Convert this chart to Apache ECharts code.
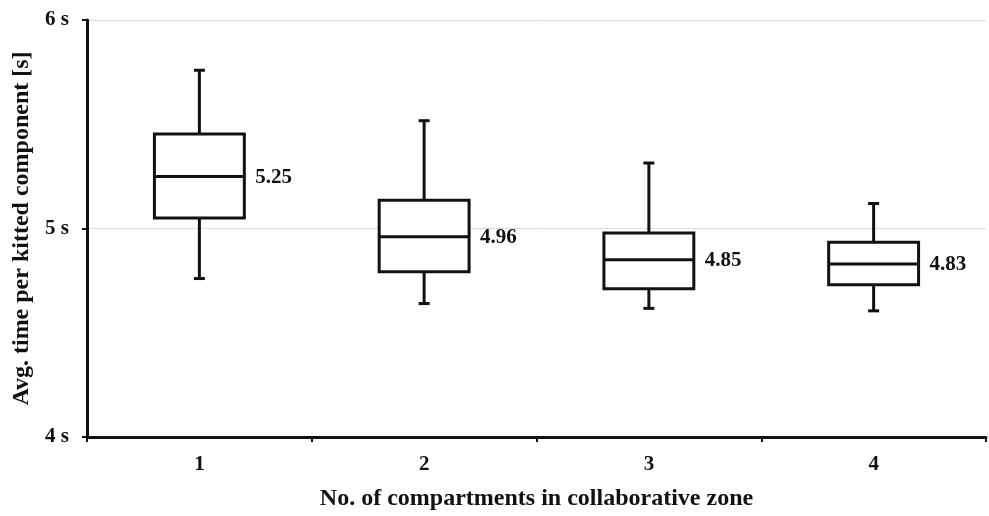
<!DOCTYPE html>
<html>
<head>
<meta charset="utf-8">
<script src="https://cdn.jsdelivr.net/npm/echarts@6/dist/echarts.min.js"></script>
<style>html,body{margin:0;padding:0;background:#fff}#c{width:989px;height:516px}</style>
</head>
<body>
<div id="c"></div>
<script>
const categories = ['1', '2', '3', '4'];
const whiskerLow = [4.76, 4.64, 4.617, 4.605];
const q1 = [5.05, 4.792, 4.711, 4.73];
const median = [5.25, 4.96, 4.85, 4.83];
const q3 = [5.453, 5.135, 4.978, 4.934];
const whiskerHigh = [5.759, 5.517, 5.314, 5.12];
const yTicks = [4, 5, 6];

const FONT = '"Liberation Serif", "Times New Roman", serif';
const INK = '#111';

const data = categories.map((c, i) => [i, whiskerLow[i], q1[i], median[i], q3[i], whiskerHigh[i]]);

const chart = echarts.init(document.getElementById('c'), null, {renderer: 'canvas'});
chart.setOption({
  backgroundColor: '#fff',
  animation: false,
  grid: {left: 87, right: 3, top: 20, bottom: 72},
  xAxis: {
    type: 'category',
    data: categories,
    boundaryGap: true,
    name: 'No. of compartments in collaborative zone',
    nameLocation: 'middle',
    nameGap: 50,
    nameTextStyle: {fontFamily: FONT, fontWeight: 'bold', fontSize: 24, color: INK},
    axisLine: {lineStyle: {color: INK, width: 3}},
    axisTick: {show: true, length: 5, lineStyle: {color: INK, width: 2}},
    axisLabel: {fontFamily: FONT, fontWeight: 'bold', fontSize: 21, color: INK, margin: 17},
    splitLine: {show: false}
  },
  yAxis: {
    type: 'value',
    min: yTicks[0],
    max: yTicks[yTicks.length - 1],
    interval: 1,
    name: 'Avg. time per kitted component [s]',
    nameLocation: 'middle',
    nameGap: 52,
    nameTextStyle: {fontFamily: FONT, fontWeight: 'bold', fontSize: 24, color: INK},
    axisLine: {show: true, lineStyle: {color: INK, width: 3}},
    axisTick: {show: true, length: 5, lineStyle: {color: INK, width: 2}},
    axisLabel: {formatter: '{value} s', fontFamily: FONT, fontWeight: 'bold', fontSize: 21, color: INK, margin: 18},
    splitLine: {show: true, lineStyle: {color: '#dcdcdc', width: 1}}
  },
  series: [{
    type: 'custom',
    data: data,
    encode: {x: 0, y: [1, 2, 3, 4, 5]},
    renderItem: function (params, api) {
      const idx = api.value(0);
      const lo = api.coord([idx, api.value(1)]);
      const b1 = api.coord([idx, api.value(2)]);
      const md = api.coord([idx, api.value(3)]);
      const b3 = api.coord([idx, api.value(4)]);
      const hi = api.coord([idx, api.value(5)]);
      const bw = api.size([1, 0])[0] * 0.40;
      const cw = 11;
      const x = lo[0];
      const ls = {stroke: INK, lineWidth: 3, fill: null};
      return {
        type: 'group',
        children: [
          {type: 'line', shape: {x1: x, y1: hi[1], x2: x, y2: b3[1]}, style: ls},
          {type: 'line', shape: {x1: x, y1: b1[1], x2: x, y2: lo[1]}, style: ls},
          {type: 'line', shape: {x1: x - cw / 2, y1: hi[1], x2: x + cw / 2, y2: hi[1]}, style: ls},
          {type: 'line', shape: {x1: x - cw / 2, y1: lo[1], x2: x + cw / 2, y2: lo[1]}, style: ls},
          {type: 'rect', shape: {x: x - bw / 2, y: b3[1], width: bw, height: b1[1] - b3[1]},
            style: {stroke: INK, lineWidth: 3, fill: '#fff'}},
          {type: 'line', shape: {x1: x - bw / 2, y1: md[1], x2: x + bw / 2, y2: md[1]}, style: ls},
          {type: 'text', x: x + bw / 2 + 11, y: md[1] + 1,
            style: {text: api.value(3).toFixed(2), fontFamily: FONT, fontWeight: 'bold', fontSize: 21,
              fill: INK, align: 'left', verticalAlign: 'middle'}}
        ]
      };
    }
  }]
});
</script>
</body>
</html>
